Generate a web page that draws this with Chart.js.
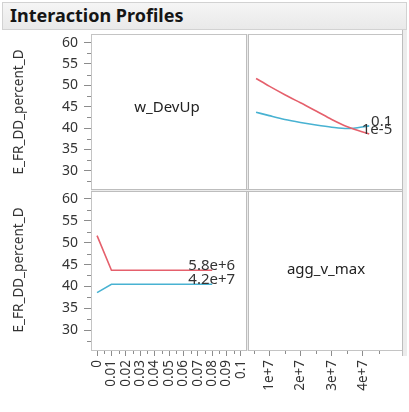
<!DOCTYPE html>
<html>
<head>
<meta charset="utf-8">
<script src="https://cdn.jsdelivr.net/npm/chart.js@4.4.1/dist/chart.umd.min.js"></script>
<style>
  html, body { margin: 0; padding: 0; background: #fff; }
  #wrap { position: relative; width: 409px; height: 412px; overflow: hidden; background: #fff;
          font-family: "Noto Sans", "Open Sans", sans-serif; }
  #title { position: absolute; left: 2px; top: 2px; width: 405px; height: 28px; box-sizing: border-box;
           background: linear-gradient(#f5f5f5, #e9e9e9); border: 1px solid #d2d2d2;
           font-weight: bold; font-size: 18px; line-height: 24px; padding-left: 7px; color: #151515; }
  canvas { position: absolute; }
  .rule { position: absolute; background: #c4c4c4; }
  .band { position: absolute; background: #ececec; border: 0 solid #bdbdbd; box-sizing: border-box; }
  .factor { position: absolute; font-size: 15px; color: #222; transform: translate(-50%, -50%); white-space: nowrap; }
</style>
</head>
<body>
<div id="wrap">
  <div id="title">Interaction Profiles</div>
  <canvas id="pTL"></canvas>
  <canvas id="pTR"></canvas>
  <canvas id="pBL"></canvas>
  <canvas id="pBR"></canvas>
  <div class="factor" style="left:167px; top:106px;">w_DevUp</div>
  <div class="factor" style="left:326px; top:268px;">agg_v_max</div>
</div>
<script>
// ---- data -------------------------------------------------------------
const responseName = 'E_FR_DD_percent_D';
const wLevels = ['1e-5', '0.1'];          // w_DevUp levels traced in the agg_v_max panel
const aggLevels = ['5.8e+6', '4.2e+7'];   // agg_v_max levels traced in the w_DevUp panel

// response vs agg_v_max (top-right panel)
const aggGrid      = [5.8e6, 1e7, 1.5e7, 2e7, 2.5e7, 3e7, 3.5e7, 4.2e7];
const respAtWLow   = [51.6, 49.8, 47.8, 45.9, 44.0, 42.0, 40.3, 38.6];
const respAtWHigh  = [43.7, 42.9, 42.0, 41.3, 40.7, 40.2, 39.9, 40.5];

// response vs w_DevUp (bottom-left panel)
const wGrid        = [0.00001, 0.01, 0.08];
const respAtAggLow = [51.6, 43.7, 43.7];
const respAtAggHigh= [38.6, 40.5, 40.5];

// axis ticks
const yTicks   = [30, 35, 40, 45, 50, 55, 60];
const yMinor   = [27.5, 32.5, 37.5, 42.5, 47.5, 52.5, 57.5];
const wTicks   = [0, 0.01, 0.02, 0.03, 0.04, 0.05, 0.06, 0.07, 0.08, 0.09, 0.1];
const wLabels  = ['0', '0.01', '0.02', '0.03', '0.04', '0.05', '0.06', '0.07', '0.08', '0.09', '0.1'];
const wMinor   = [0.005, 0.015, 0.025, 0.035, 0.045, 0.055, 0.065, 0.075, 0.085, 0.095];
const aggTicks = [1e7, 2e7, 3e7, 4e7];
const aggLabels= ['1e+7', '2e+7', '3e+7', '4e+7'];
const aggMinor = [0.5e7, 1.5e7, 2.5e7, 3.5e7, 4.5e7];

// ---- layout -----------------------------------------------------------
const G = { L: 91, M: 247, R: 403, T: 34, H: 190, B: 350, W: 409, HT: 412 };
const Y_RANGE = { min: 25.5, max: 62 };
const W_RANGE = { min: -0.0042, max: 0.1042 };
const AGG_RANGE = { min: 2.9e6, max: 5.28e7 };
const RED = 'rgb(229, 96, 108)';
const BLUE = 'rgb(72, 178, 210)';
const FONT = '"Noto Sans", "Open Sans", sans-serif';
const AXIS = '#8c8c8c';

function rule(x, y, w, h, cls) {
  const d = document.createElement('div');
  d.className = cls || 'rule';
  Object.assign(d.style, { left: x + 'px', top: y + 'px', width: w + 'px', height: h + 'px' });
  document.getElementById('wrap').appendChild(d);
  return d;
}
// panel frame
rule(G.L, G.T, G.R - G.L, 1);
rule(G.L, G.B, G.R - G.L, 1);
rule(G.L, G.T, 1, G.B - G.T + 1);
const vb = rule(G.M - 1, G.T, 3, G.B - G.T + 1, 'band'); vb.style.borderLeftWidth = '1px'; vb.style.borderRightWidth = '1px';
const hb = rule(G.L, G.H - 1, G.R - G.L, 3, 'band'); hb.style.borderTopWidth = '1px'; hb.style.borderBottomWidth = '1px';
const rb = rule(G.R - 1, G.T - 4, 5, G.B - G.T + 10, 'band'); rb.style.borderLeftWidth = '1px';

function place(id, x, y, w, h) {
  const c = document.getElementById(id);
  c.width = w; c.height = h;
  Object.assign(c.style, { left: x + 'px', top: y + 'px', width: w + 'px', height: h + 'px' });
  return c;
}

function zeroPad(s) { s.paddingLeft = 0; s.paddingRight = 0; s.paddingTop = 0; s.paddingBottom = 0; }

function yAxis(show) {
  return {
    type: 'linear', display: show, min: Y_RANGE.min, max: Y_RANGE.max,
    afterBuildTicks: s => { s.ticks = yTicks.map(v => ({ value: v })); },
    afterFit: s => { if (show) s.width = G.L; zeroPad(s); },
    grid: { drawOnChartArea: false, drawTicks: true, tickLength: 7, color: AXIS },
    border: { display: false },
    ticks: { color: '#333', font: { family: FONT, size: 14 }, padding: 6 },
    title: { display: true, text: responseName, color: '#333', font: { family: FONT, size: 13.5 },
             padding: { top: 11, bottom: 0 } }
  };
}

function xAxis(show, range, ticks, labels) {
  return {
    type: 'linear', display: show, min: range.min, max: range.max,
    afterBuildTicks: s => { s.ticks = ticks.map(v => ({ value: v })); },
    afterFit: s => { if (show) s.height = G.HT - G.B; zeroPad(s); },
    grid: { drawOnChartArea: false, drawTicks: true, tickLength: 6, color: AXIS },
    border: { display: false },
    ticks: { color: '#333', font: { family: FONT, size: 13.5 }, padding: 4, autoSkip: false,
             minRotation: 90, maxRotation: 90,
             callback: (v, i) => labels[i] }
  };
}

// short minor tick marks placed through each scale
const minorTicks = {
  id: 'minorTicks',
  afterDraw(chart, args, opts) {
    const ctx = chart.ctx;
    ctx.save();
    ctx.strokeStyle = AXIS; ctx.lineWidth = 1;
    const ys = chart.scales.y, xs = chart.scales.x;
    if (ys.options.display && opts.y) {
      opts.y.forEach(v => {
        const p = Math.round(ys.getPixelForValue(v)) + 0.5;
        ctx.beginPath(); ctx.moveTo(ys.right - 4, p); ctx.lineTo(ys.right, p); ctx.stroke();
      });
    }
    if (xs.options.display && opts.x) {
      opts.x.forEach(v => {
        const p = Math.round(xs.getPixelForValue(v)) + 0.5;
        if (p < xs.left || p > xs.right) return;
        ctx.beginPath(); ctx.moveTo(p, xs.top); ctx.lineTo(p, xs.top + 4); ctx.stroke();
      });
    }
    ctx.restore();
  }
};

// level label written just past the end of each trace
const endLabels = {
  id: 'endLabels',
  afterDatasetsDraw(chart) {
    const ctx = chart.ctx;
    ctx.save();
    ctx.font = '15px ' + FONT;
    ctx.fillStyle = '#333';
    ctx.textAlign = 'right';
    ctx.textBaseline = 'alphabetic';
    chart.data.datasets.forEach(ds => {
      const last = ds.data[ds.data.length - 1];
      const x = chart.scales.x.getPixelForValue(last.x);
      const y = chart.scales.y.getPixelForValue(last.y);
      ctx.fillText(ds.label, x + 23, y);
    });
    ctx.restore();
  }
};

function series(xs, ys) { return xs.map((x, i) => ({ x, y: ys[i] })); }

function makeChart(id, rect, datasets, xOpts, yOpts, minorOpts, smooth) {
  const c = place(id, rect[0], rect[1], rect[2], rect[3]);
  return new Chart(c, {
    type: 'scatter',
    data: { datasets: datasets.map(d => Object.assign({
      showLine: true, pointRadius: 0, borderWidth: 1.6, fill: false,
      cubicInterpolationMode: smooth ? 'monotone' : 'default', tension: smooth ? 0.4 : 0
    }, d)) },
    options: {
      responsive: false, animation: false, devicePixelRatio: 1,
      layout: { padding: 0, autoPadding: false },
      plugins: { legend: { display: false }, tooltip: { enabled: false }, minorTicks: minorOpts },
      scales: { x: xOpts, y: yOpts }
    },
    plugins: [minorTicks, endLabels]
  });
}

// top-left: w_DevUp name cell with the response axis
makeChart('pTL', [0, G.T, G.M, G.H - G.T], [],
  xAxis(false, W_RANGE, wTicks, wLabels), yAxis(true), { y: yMinor }, false);

// top-right: response vs agg_v_max at each w_DevUp level
makeChart('pTR', [G.M, G.T, G.R - G.M, G.H - G.T], [
  { label: wLevels[0], data: series(aggGrid, respAtWLow),  borderColor: RED },
  { label: wLevels[1], data: series(aggGrid, respAtWHigh), borderColor: BLUE }
], xAxis(false, AGG_RANGE, aggTicks, aggLabels), yAxis(false), {}, true);

// bottom-left: response vs w_DevUp at each agg_v_max level
makeChart('pBL', [0, G.H, G.M, G.HT - G.H], [
  { label: aggLevels[0], data: series(wGrid, respAtAggLow),  borderColor: RED },
  { label: aggLevels[1], data: series(wGrid, respAtAggHigh), borderColor: BLUE }
], xAxis(true, W_RANGE, wTicks, wLabels), yAxis(true), { y: yMinor, x: wMinor }, false);

// bottom-right: agg_v_max name cell with its axis
makeChart('pBR', [G.M, G.H, G.R - G.M, G.HT - G.H], [],
  xAxis(true, AGG_RANGE, aggTicks, aggLabels), yAxis(false), { x: aggMinor }, false);
</script>
</body>
</html>
